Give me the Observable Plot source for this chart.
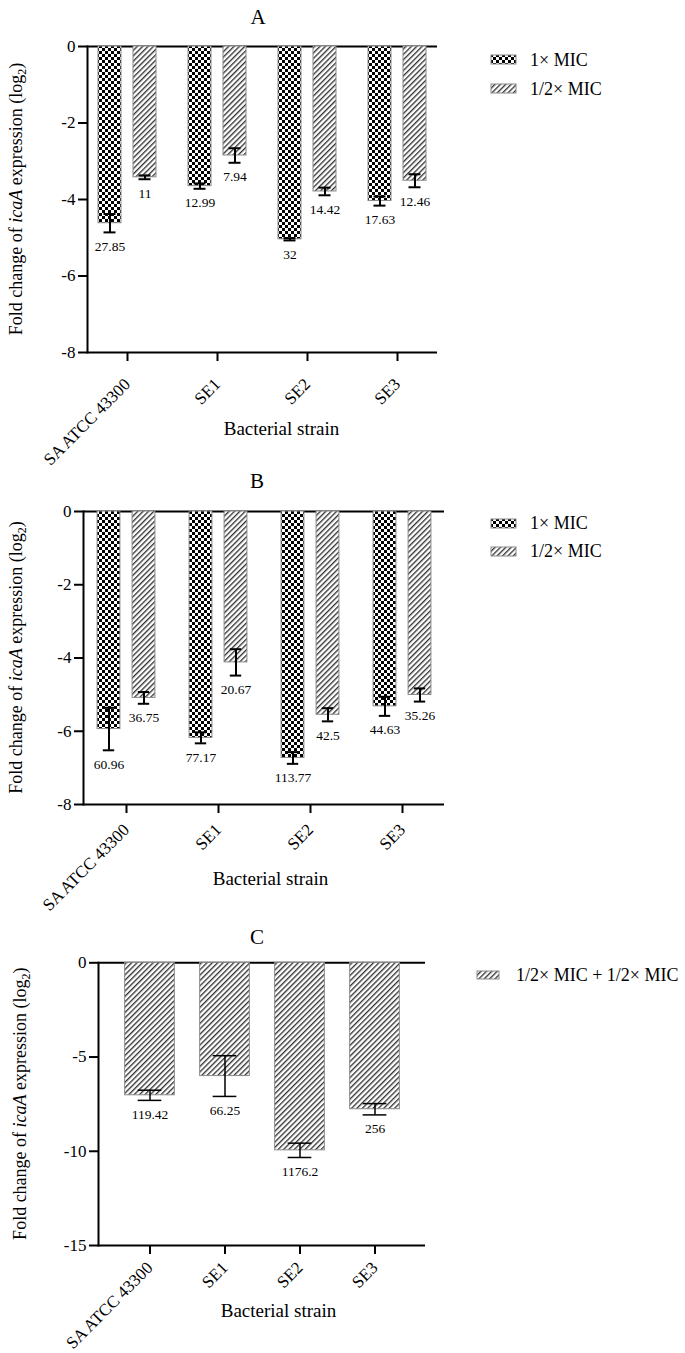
<!DOCTYPE html>
<html><head><meta charset="utf-8">
<script src="https://cdn.jsdelivr.net/npm/d3@7"></script>
<script src="https://cdn.jsdelivr.net/npm/@observablehq/plot@0.6"></script>
<style>
body{margin:0;background:#fff;font-family:"Liberation Serif","Times New Roman",serif;color:#000;}
#root{position:relative;width:685px;height:1353px;overflow:hidden;}
.panel{position:absolute;left:0;}
.panel svg{overflow:visible;}
.ptitle{position:absolute;font-size:21px;transform:translate(-50%,-50%);line-height:1;}
.leg{position:absolute;font-size:18px;line-height:1;white-space:nowrap;}
.leg svg{position:absolute;left:0;}
.leg span{position:absolute;transform:translateY(-50%);}
</style>
</head><body>
<svg width="0" height="0" style="position:absolute">
<defs>
<pattern id="checker" width="6" height="6" patternUnits="userSpaceOnUse">
<rect width="6" height="6" fill="#fff"/>
<rect width="3" height="3" fill="#000"/>
<rect x="3" y="3" width="3" height="3" fill="#000"/>
</pattern>
<pattern id="hatch" width="3.8" height="3.8" patternUnits="userSpaceOnUse" patternTransform="rotate(45)">
<rect width="3.8" height="3.8" fill="#fff"/>
<line x1="0.7" y1="0" x2="0.7" y2="3.8" stroke="#1a1a1a" stroke-width="1.2"/>
</pattern>
</defs>
</svg>
<div id="root"></div>
<script>
// ---------- data ----------
const strains = ["SA ATCC 43300", "SE1", "SE2", "SE3"];

// Panel A
const aMic1 = [-4.62, -3.65, -5.04, -4.04];
const aMic1Err = [0.24, 0.07, 0.03, 0.12];
const aMic1Lab = ["27.85", "12.99", "32", "17.63"];
const aMic2 = [-3.42, -2.85, -3.79, -3.51];
const aMic2Err = [0.05, 0.19, 0.10, 0.17];
const aMic2Lab = ["11", "7.94", "14.42", "12.46"];

// Panel B
const bMic1 = [-5.94, -6.18, -6.73, -5.32];
const bMic1Err = [0.58, 0.15, 0.16, 0.26];
const bMic1Lab = ["60.96", "77.17", "113.77", "44.63"];
const bMic2 = [-5.09, -4.12, -5.55, -5.01];
const bMic2Err = [0.16, 0.36, 0.18, 0.18];
const bMic2Lab = ["36.75", "20.67", "42.5", "35.26"];

// Panel C
const cCombo = [-7.03, -6.01, -9.95, -7.77];
const cComboErr = [0.27, 1.08, 0.38, 0.30];
const cComboLab = ["119.42", "66.25", "1176.2", "256"];

const yTicksAB = [0, -2, -4, -6, -8];
const yTicksC = [0, -5, -10, -15];
const seriesNames = ["1× MIC", "1/2× MIC"];
const comboName = ["1/2× MIC + 1/2× MIC"];
const panelTitles = ["A", "B", "C"];
const xTitle = "Bacterial strain";

// ---------- drawing ----------
const root = document.getElementById("root");
const W = 460;

function rows(vals, errs, labs) {
  return strains.map((s, i) => ({strain: s, v: vals[i], e: errs[i], lab: labs[i]}));
}

function panel(cfg) {
  const {top, height, mt, mb, ml, mr, inL, inR, yDomain, yTicks, series, titleDx, titleDy, ylabX, xPad} = cfg;
  const bw = (W - ml - mr - inL - inR) / strains.length;
  const marks = [
    Plot.ruleY([0], {strokeWidth: 2}),
    Plot.ruleY([yDomain[0]], {strokeWidth: 2}),
    Plot.frame({anchor: "left", strokeWidth: 2})
  ];
  for (const s of series) {
    const d = rows(s.vals, s.errs, s.labs);
    const iL = bw / 2 + s.off - s.w / 2, iR = bw / 2 - s.off - s.w / 2;
    const cL = bw / 2 + s.off - s.cap / 2, cR = bw / 2 - s.off - s.cap / 2;
    marks.push(
      Plot.barY(d, {x: "strain", y1: 0, y2: "v", fill: s.fill, stroke: "#8a8a8a", strokeWidth: 1, insetLeft: iL, insetRight: iR}),
      Plot.ruleX(d, {x: "strain", y1: r => r.v - r.e, y2: r => r.v + r.e, dx: s.off, strokeWidth: s.ew}),
      Plot.tickY(d, {x: "strain", y: r => r.v + r.e, insetLeft: cL, insetRight: cR, strokeWidth: s.ew}),
      Plot.tickY(d, {x: "strain", y: r => r.v - r.e, insetLeft: cL, insetRight: cR, strokeWidth: s.ew}),
      Plot.text(d, {x: "strain", y: r => r.v - r.e, text: "lab", dx: s.off, dy: 14, fontSize: 13.5})
    );
  }
  marks.push(
    Plot.axisY({ticks: yTicks, tickSize: 9, tickPadding: 3, tickFormat: t => String(t), strokeWidth: 2, label: null}),
    Plot.axisX({tickSize: 9, tickPadding: xPad, tickRotate: -45, lineAnchor: "middle", textAnchor: "end", strokeWidth: 2, label: null}),
    Plot.text([xTitle], {frameAnchor: "bottom", dx: titleDx, dy: titleDy, fontSize: 19})
  );
  const svg = Plot.plot({
    width: W, height,
    marginTop: mt, marginBottom: mb, marginLeft: ml, marginRight: mr,
    style: {fontFamily: "'Liberation Serif','Times New Roman',serif", fontSize: "17px", color: "#000", background: "transparent", overflow: "visible"},
    x: {type: "band", domain: strains, padding: 0, insetLeft: inL, insetRight: inR},
    y: {domain: yDomain},
    marks
  });
  // y-axis title with italic gene name and subscript
  const cy = mt + (height - mt - mb) / 2;
  const t = d3.select(svg).append("text")
    .attr("transform", `translate(${ylabX},${cy}) rotate(-90)`)
    .attr("text-anchor", "middle")
    .attr("font-size", 18)
    .attr("fill", "#000");
  t.append("tspan").text("Fold change of ");
  t.append("tspan").attr("font-style", "italic").text("icaA");
  t.append("tspan").text(" expression (log");
  t.append("tspan").attr("font-size", 12).attr("dy", 4).text("2");
  t.append("tspan").attr("dy", -4).text(")");
  const wrap = document.createElement("div");
  wrap.className = "panel";
  wrap.style.top = top + "px";
  wrap.appendChild(svg);
  root.appendChild(wrap);
}

function title(text, x, y) {
  const d = document.createElement("div");
  d.className = "ptitle";
  d.style.left = x + "px"; d.style.top = y + "px";
  d.textContent = text;
  root.appendChild(d);
}

function legend(items, x, y0, gap, sw, sh, textX) {
  items.forEach((it, i) => {
    const cy = y0 + i * gap;
    const d = document.createElement("div");
    d.className = "leg";
    d.style.left = x + "px"; d.style.top = cy + "px";
    d.innerHTML = `<svg width="${sw + 2}" height="${sh + 2}" style="top:${-sh / 2 - 1}px"><rect x="1" y="1" width="${sw}" height="${sh}" fill="${it.fill}" stroke="#8a8a8a" stroke-width="1"/></svg><span style="left:${textX - x}px"></span>`;
    d.querySelector("span").textContent = it.name;
    root.appendChild(d);
  });
}

// Panel A
panel({
  top: 0, height: 455, mt: 46, mb: 103, ml: 87, mr: 23, inL: -5, inR: -5,
  yDomain: [-8, 0], yTicks: yTicksAB, titleDx: 19, titleDy: 82, ylabX: 22, xPad: 20,
  series: [
    {vals: aMic1, errs: aMic1Err, labs: aMic1Lab, fill: "url(#checker)", off: -17.5, w: 23, cap: 12, ew: 2},
    {vals: aMic2, errs: aMic2Err, labs: aMic2Lab, fill: "url(#hatch)", off: 17.5, w: 23, cap: 12, ew: 2}
  ]
});
// Panel B
panel({
  top: 460, height: 440, mt: 51, mb: 96, ml: 83, mr: 16, inL: -4.8, inR: -4.8,
  yDomain: [-8, 0], yTicks: yTicksAB, titleDx: 6.5, titleDy: 80, ylabX: 22, xPad: 13.5,
  series: [
    {vals: bMic1, errs: bMic1Err, labs: bMic1Lab, fill: "url(#checker)", off: -17.5, w: 23.5, cap: 12, ew: 2},
    {vals: bMic2, errs: bMic2Err, labs: bMic2Lab, fill: "url(#hatch)", off: 17.5, w: 23.5, cap: 12, ew: 2}
  ]
});
// Panel C
panel({
  top: 900, height: 453, mt: 62.3, mb: 108, ml: 98, mr: 35, inL: 13.4, inR: 12.4,
  yDomain: [-15, 0], yTicks: yTicksC, titleDx: 16.5, titleDy: 71, ylabX: 26, xPad: 10.5,
  series: [
    {vals: cCombo, errs: cComboErr, labs: cComboLab, fill: "url(#hatch)", off: 0, w: 50, cap: 24, ew: 1.5}
  ]
});

title(panelTitles[0], 258, 17);
title(panelTitles[1], 257, 481);
title(panelTitles[2], 257, 937);

legend([{name: seriesNames[0], fill: "url(#checker)"}, {name: seriesNames[1], fill: "url(#hatch)"}], 490, 59.5, 29, 25, 9, 530);
legend([{name: seriesNames[0], fill: "url(#checker)"}, {name: seriesNames[1], fill: "url(#hatch)"}], 490, 523, 28, 25, 9, 530);
legend([{name: comboName[0], fill: "url(#hatch)"}], 476, 975, 0, 22, 8, 516);
</script>
</body></html>
